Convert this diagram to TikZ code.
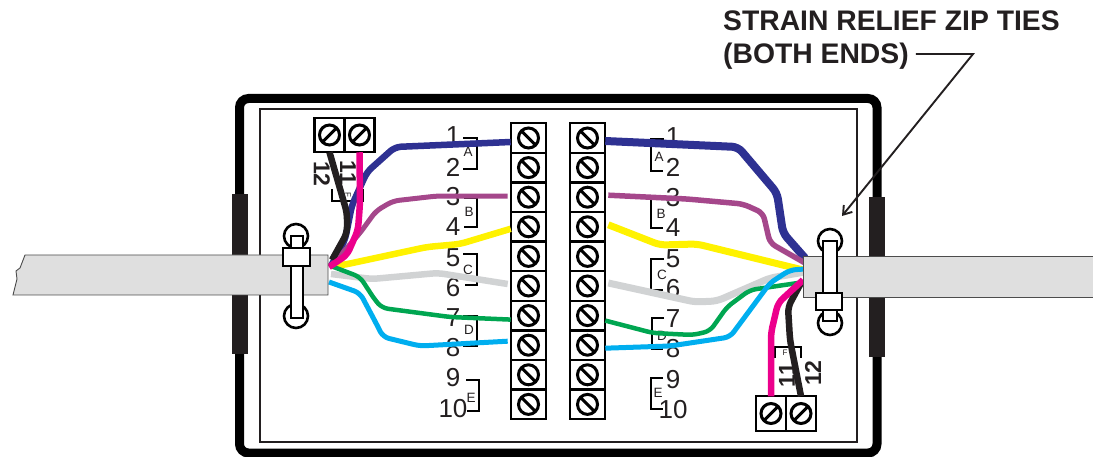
\documentclass[tikz,border=0pt]{standalone}
\usepackage{fontspec}
\setmainfont{Liberation Sans}
\usepackage{xcolor}
\usetikzlibrary{arrows.meta, calc}

\definecolor{inkblack}{HTML}{231F20}
\definecolor{navywire}{HTML}{2E3192}
\definecolor{purplewire}{HTML}{A5478B}
\definecolor{yellowwire}{HTML}{FFF200}
\definecolor{graywire}{HTML}{D1D3D4}
\definecolor{greenwire}{HTML}{00A651}
\definecolor{cyanwire}{HTML}{00AEEF}
\definecolor{pinkwire}{HTML}{EC008C}
\definecolor{cablegray}{HTML}{DFDFDF}

\tikzset{ termbox/.style = { rectangle
                           , draw = black
                           , line width = 2.3pt
                           , fill = white
                           , inner sep = 0pt
                           , outer sep = 0pt
                           , minimum width = 35.6pt
                           , minimum height = 29.6pt
                           , path picture = { \draw [line width = 3pt]
                               (path picture bounding box.center) circle (10)
                               ($(path picture bounding box.center) + (#1:10)$)
                               -- ($(path picture bounding box.center) + (#1+180:10)$); } }
        , pairbox/.style = { termbox = #1
                           , minimum width = 30pt
                           , minimum height = 34.5pt }
        , digit/.style = { font = \fontsize{26}{26}\selectfont
                         , text = inkblack
                         , inner sep = 0pt }
        , sidedigit/.style = { font = \fontsize{23}{23}\bfseries
                             , text = inkblack
                             , inner sep = 0pt }
        , tag/.style = { font = \fontsize{13.5}{13.5}\selectfont
                       , text = inkblack
                       , inner sep = 0pt }
        , bracket/.style = { draw = black, line width = 1.6pt }
        , wire/.style = { line width = 6.5pt, rounded corners = 6pt }
        , cable/.style = { draw = black!70, line width = 0.9pt, fill = cablegray }
        , gasket/.style = { fill = inkblack }
        , zip/.style = { draw = black, line width = 2.6pt, fill = white }
        , note/.style = { font = \fontsize{28.3}{28.3}\bfseries
                        , text = inkblack
                        , inner sep = 0pt
                        , anchor = base west }
        }

\begin{document}
\begin{tikzpicture}[ x = 1pt
                   , y = -1pt
                   , >={Straight Barb[width=1.1em, length=0.8em]}
                   ]
  \useasboundingbox (0,0) rectangle (1093,457);

  \draw [line width = 9pt, rounded corners = 9pt] (239.5,98.5) rectangle (877,453);
  \draw [line width = 1.7pt, draw = inkblack] (260,109) rectangle (857,442);
  \fill [gasket] (232,194) rectangle (248,354);
  \fill [gasket] (869,197) rectangle (885,357);

  \foreach \n/\y in {1/136, 2/167, 3/197, 4/227, 5/258, 6/288, 7/318, 8/348, 9/378, 10/409}
    \node (lnum\n) [digit] at (453,\y) {\n};
  \foreach \n/\y in {1/137, 2/167, 3/198, 4/228, 5/259, 6/289, 7/319, 8/349, 9/380, 10/410}
    \node (rnum\n) [digit] at (673,\y) {\n};

  \node (ltagA) [tag] at (468,152) {A};
  \node (ltagB) [tag] at (469,212) {B};
  \node (ltagC) [tag] at (468,270) {C};
  \node (ltagD) [tag] at (469,330) {D};
  \node (ltagE) [tag] at (471,398) {E};
  \node (rtagA) [tag] at (659,157) {A};
  \node (rtagB) [tag] at (661,214) {B};
  \node (rtagC) [tag] at (662,275) {C};
  \node (rtagD) [tag] at (662,336) {D};
  \node (rtagE) [tag] at (658,393) {E};

  \draw [bracket] (463,138) -| (477,169) -- (463,169);
  \draw [bracket] (464,198) -| (477,227) -- (464,227);
  \draw [bracket] (463,254) -| (477,285) -- (465,285);
  \draw [bracket] (463,316) -| (477,346) -- (463,346);
  \draw [bracket] (466,380) -| (479,411) -- (467,411);
  \draw [bracket] (664,139) -| (651,171) -- (663,171);
  \draw [bracket] (664,198) -| (651,228) -- (663,228);
  \draw [bracket] (664,259) -| (651,290) -- (663,290);
  \draw [bracket] (664,318) -| (652,349) -- (663,349);
  \draw [bracket] (663,378) -| (651,409) -- (663,409);

  \node (ltop12) [sidedigit, rotate = -90] at (322,174) {12};
  \node (ltop11) [sidedigit, rotate = -90] at (348,173) {11};
  \node (ltagF) [tag, rotate = -90, font = \fontsize{8}{8}\selectfont] at (348,195) {F};
  \draw [bracket] (332,189) |- (363,201) -- (363,189);
  \node (rbot11) [sidedigit, rotate = 90] at (787,375) {11};
  \node (rbot12) [sidedigit, rotate = 90] at (813,373) {12};
  \node (rtagF) [tag, font = \fontsize{8}{8}\selectfont] at (785,353) {F};
  \draw [bracket] (775,358) |- (801,347) -- (801,358);

  \foreach \n in {1,...,10} {
    \node (lblock\n) [termbox = 45] at (528.5,{138 + (\n-1)*29.6}) {};
    \node (rblock\n) [termbox = 45] at (587.5,{138 + (\n-1)*29.6}) {};
  }
  \node (ltopa) [pairbox = -45] at (329.5,135) {};
  \node (ltopb) [pairbox = -45] at (359.5,135) {};
  \node (rbota) [pairbox = -45] at (771,413.5) {};
  \node (rbotb) [pairbox = -45] at (801,413.5) {};

  \coordinate (lend) at (331,266);
  \coordinate (rend) at (803,270);

  \draw [wire, navywire] ([yshift=-4pt]lblock1.west) -- (395,147) -- (367,172)
    -- (352,205) -- (345,240) -- (lend);
  \draw [wire, purplewire, line width = 5pt] ($(lblock3.west)+(-3,-1)$) -- (437,196)
    -- (393,201) -- (376,211) -- (360,233) -- (lend);
  \draw [wire, yellowwire] ([yshift=-2pt]lblock4.west) -- (460,244) -- (427,247)
    -- (343,265) -- (lend);
  \draw [wire, graywire] ($(lblock6.west)+(-3,-2)$) -- (438,273) -- (372,279) -- (331,274);
  \draw [wire, greenwire, line width = 4.5pt] ([yshift=-4pt]lblock7.west) -- (450,317)
    -- (382,308) -- (375,300) -- (360,277) -- (lend);
  \draw [wire, cyanwire, line width = 5pt] ($(lblock8.west)+(-3,-4)$) -- (420,346)
    -- (383,337) -- (377,325) -- (360,293) -- (329,282);
  \draw [wire, inkblack] (ltopa.south) -- (347,213) -- (347,233) -- (332,260);
  \draw [wire, pinkwire] (ltopb.south) -- (360,203) -- (358,230) -- (347,255) -- (329,267);

  \draw [wire, navywire, line width = 8pt] ([yshift=-3pt]rblock1.east) -- (738,147) -- (777,193)
    -- (783,233) -- (805,258);
  \draw [wire, purplewire, line width = 5.5pt] ($(rblock3.east)+(3,-2)$) -- (687,199)
    -- (743,204) -- (763,213) -- (770,243) -- (805,263);
  \draw [wire, yellowwire, line width = 7pt] ($(rblock4.east)+(3,-2)$) -- (660,245) -- (697,244) -- (rend);
  \draw [wire, graywire, line width = 7pt] ($(rblock6.east)+(3,-3)$) -- (695,302) -- (717,301) -- (770,278)
    -- (805,272);
  \draw [wire, greenwire, line width = 4.5pt] ([yshift=-5pt]rblock7.east) -- (653,333)
    -- (693,335) -- (710,331) -- (727,307) -- (750,290) -- (798,283);
  \draw [wire, cyanwire, line width = 5pt] ([yshift=-3pt]rblock8.east) -- (670,346)
    -- (730,337) -- (770,283) -- (790,270) -- (805,269);
  \draw [wire, inkblack] (rbotb.north) -- (790,340) -- (788,307) -- (801,283);
  \draw [wire, pinkwire] (rbota.north) -- (771,333) -- (778,303) -- (803,280);

  \draw [cable] (25,255) -- (328,255) -- (328,295) -- (13,295) -- (17,279) -- (16,271)
    -- (20,268) -- cycle;
  \draw [cable] (1094,256) -- (803,256) -- (803,297) -- (1094,297);

  \draw [zip] (296,236) circle (12);
  \draw [zip] (296,316) circle (12);
  \draw [zip] (291,236) rectangle (303,248);
  \draw [zip] (291,266) rectangle (303,318);
  \draw [zip] (283,248) rectangle (310,266);

  \draw [zip] (830,241) circle (12);
  \draw [zip] (830,323) circle (12);
  \draw [zip] (823,241) rectangle (837,321);
  \draw [zip] (816,293) rectangle (842,310);

  \node (notetop) [note] at (723,31) {STRAIN RELIEF ZIP TIES};
  \node (noteend) [note] at (723,64) {(BOTH ENDS)};
  \coordinate (notebend) at (973,54);
  \coordinate (notetip) at (842,216);
  \draw [->, draw = inkblack, line width = 1.9pt] ($(noteend.base east)+(7,-10)$)
    -- (notebend) -- (notetip);
\end{tikzpicture}
\end{document}
